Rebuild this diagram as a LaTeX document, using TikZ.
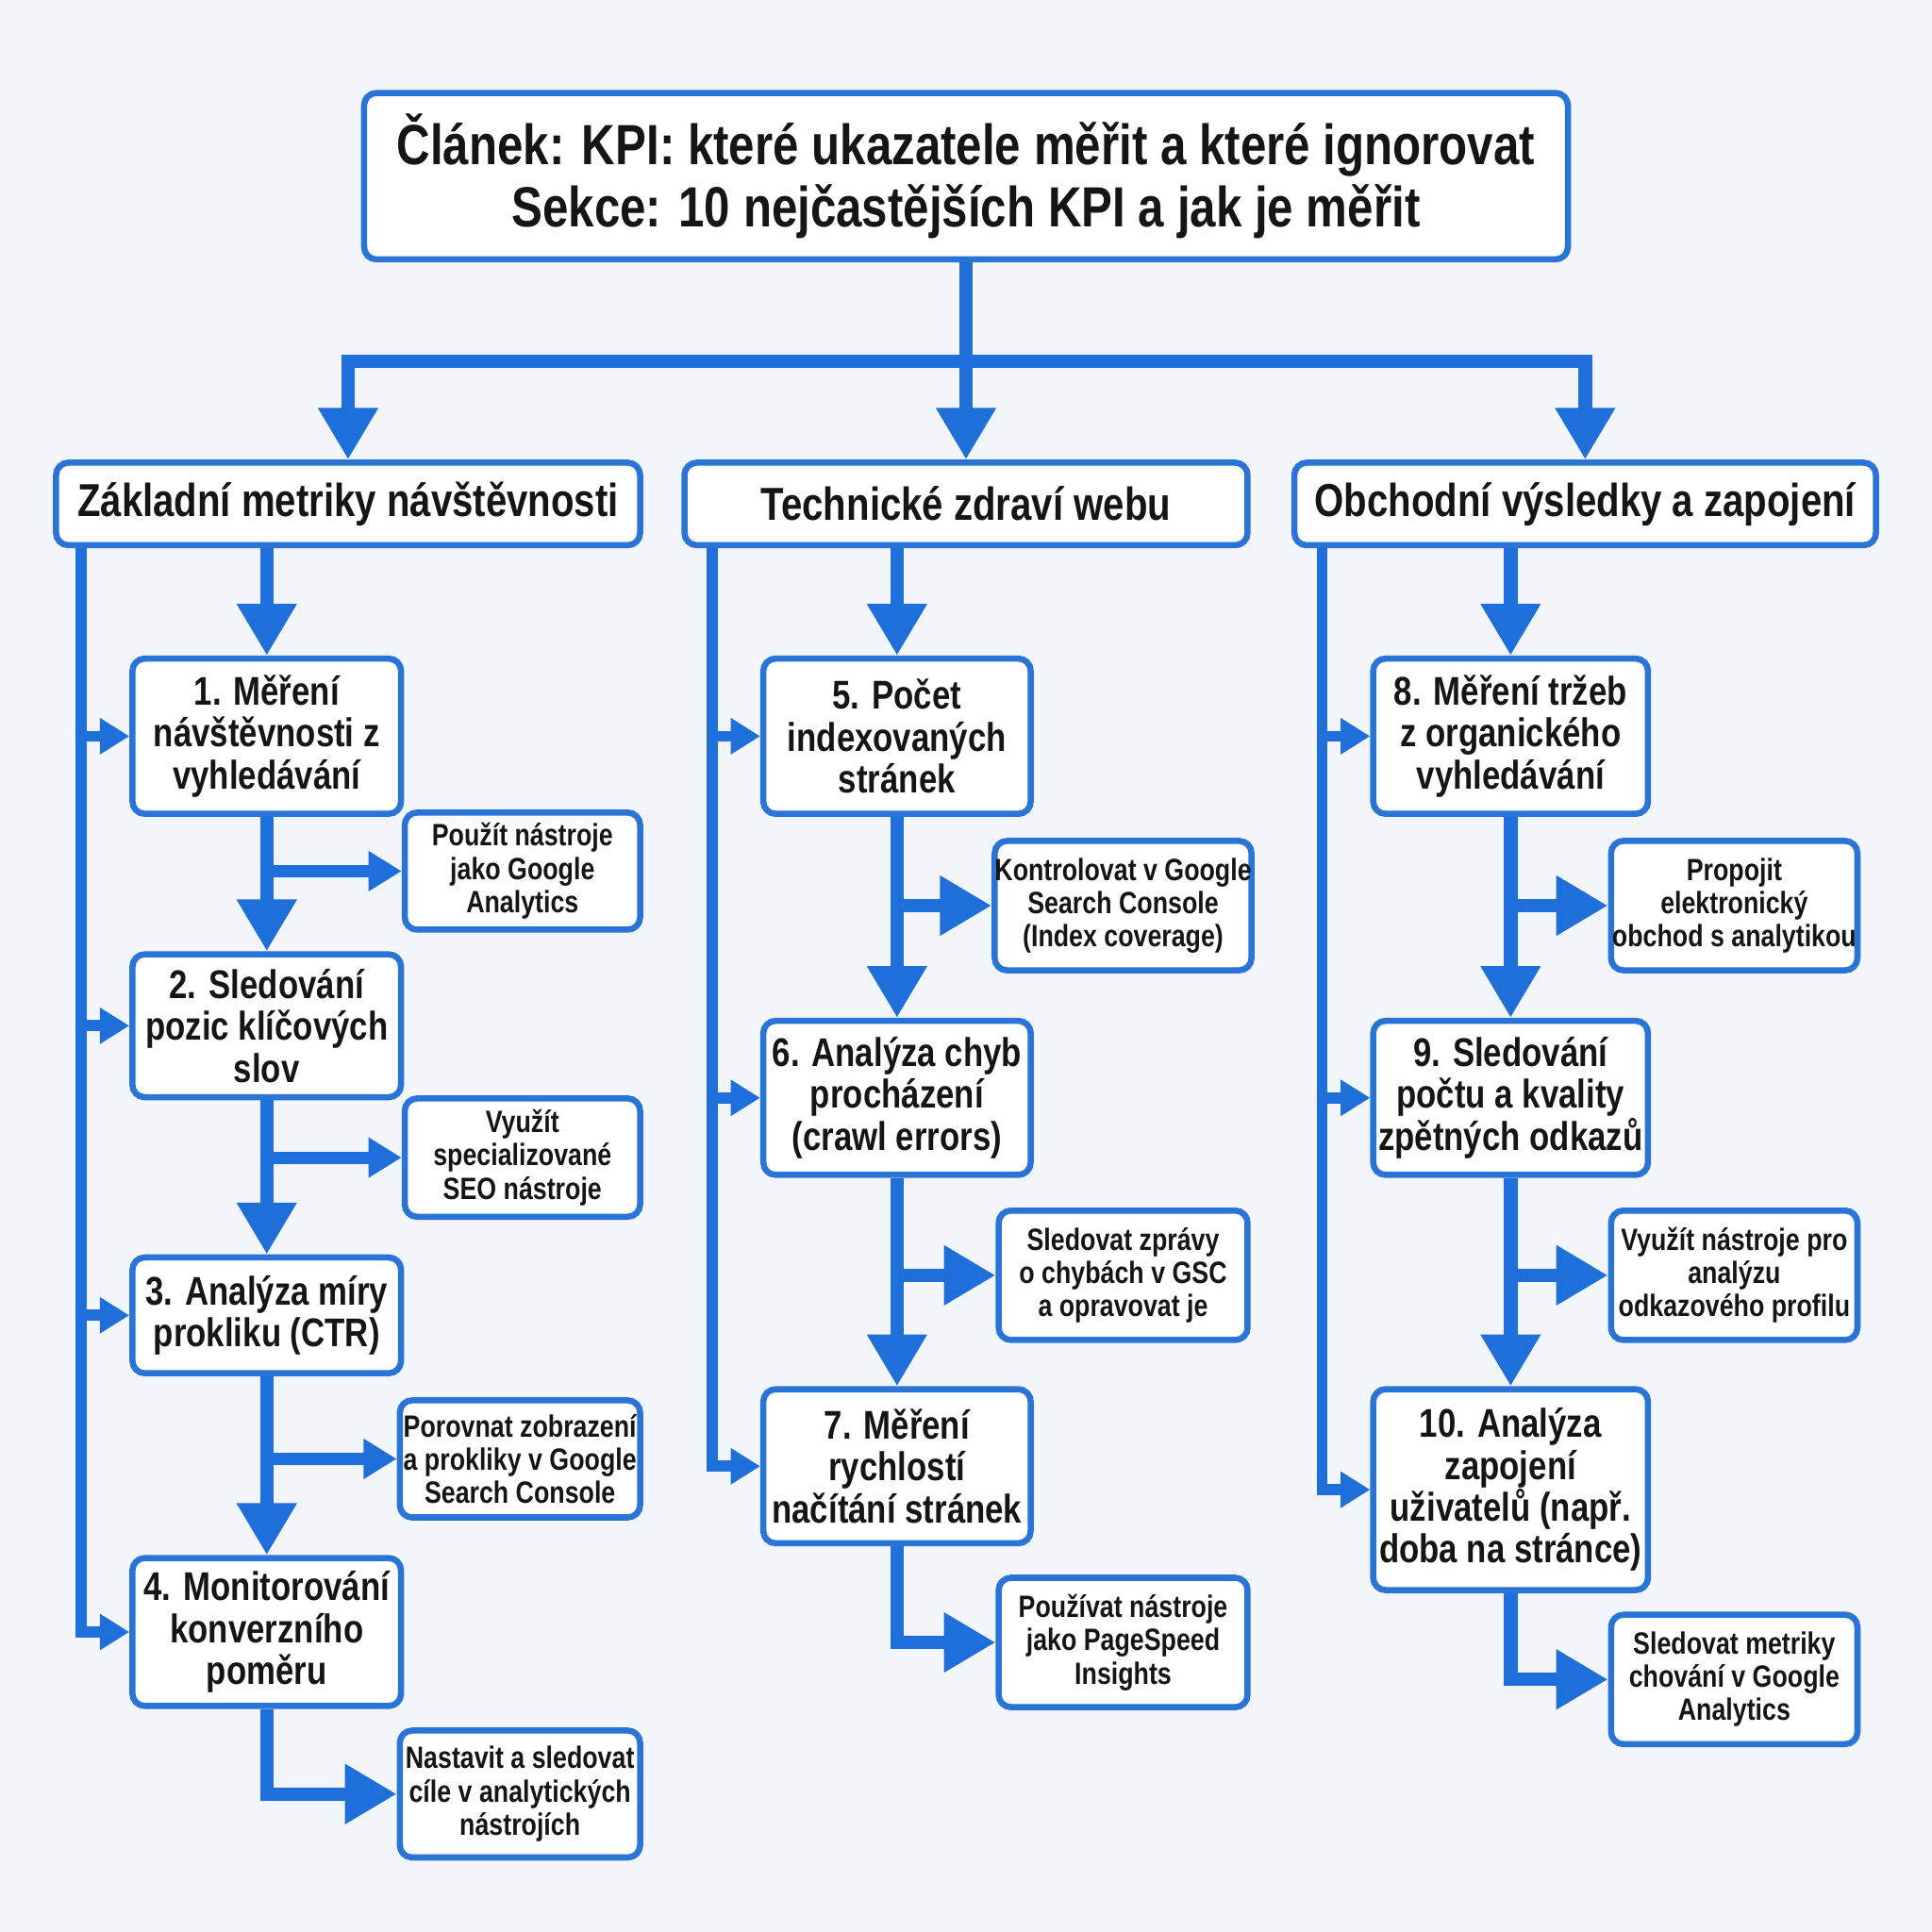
\documentclass[tikz,border=0pt]{standalone}
\usepackage{fontspec}
\setmainfont{Liberation Sans}[FakeStretch=0.82]
\usetikzlibrary{arrows.meta}
\definecolor{blu}{HTML}{1F6FDB}
\definecolor{bordc}{HTML}{2A74D8}
\definecolor{bgc}{HTML}{F2F6FA}
\definecolor{txt}{HTML}{151515}
\tikzset{
  box/.style={draw=bordc, line width=5pt, rounded corners=10pt, fill=white,
    inner sep=0pt, align=center, text=txt},
  titlef/.style={font=\bfseries\fontsize{46}{50}\selectfont},
  catf/.style={font=\bfseries\fontsize{37.5}{42}\selectfont},
  mainf/.style={font=\bfseries\fontsize{32.5}{34}\selectfont},
  subf/.style={font=\bfseries\fontsize{25}{27}\selectfont},
  conn/.style={draw=blu, line width=11pt},
  bigarr/.style={conn, -{Triangle[width=46pt,length=42pt]}},
  midarr/.style={conn, line width=10pt, -{Triangle[width=31pt,length=27pt]}},
  smallarr/.style={conn, line width=9pt, -{Triangle[width=28pt,length=24pt]}},
}
\begin{document}
\begin{tikzpicture}[x=1pt,y=-1pt]
\fill[bgc] (0,0) rectangle (1568,1568);
\useasboundingbox (0,0) rectangle (1568,1568);

% title
\node[box, titlef, minimum width=977pt, minimum height=135pt] (title) at (784,143)
  {Článek: KPI: které ukazatele měřit a které ignorovat\\Sekce: 10 nejčastějších KPI a jak je měřit};

% categories
\node[box, catf, minimum width=474pt, minimum height=67pt] (catL) at (282.5,409) {Základní metriky návštěvnosti};
\node[box, catf, minimum width=457pt, minimum height=67pt] (catM) at (784,409) {Technické zdraví webu};
\node[box, catf, minimum width=472pt, minimum height=67pt] (catR) at (1286.5,409) {Obchodní výsledky a zapojení};

% left column
\node[box, mainf, minimum width=218pt, minimum height=126pt] (b1) at (216.5,597.5) {1. Měření\\návštěvnosti z\\vyhledávání};
\node[box, mainf, minimum width=218pt, minimum height=116pt] (b2) at (216.5,832.5) {2. Sledování\\pozic klíčových\\slov};
\node[box, mainf, minimum width=218pt, minimum height=94pt] (b3) at (216.5,1067.5) {3. Analýza míry\\prokliku (CTR)};
\node[box, mainf, minimum width=218pt, minimum height=120pt] (b4) at (216.5,1324.5) {4. Monitorování\\konverzního\\poměru};
\node[box, subf, minimum width=191pt, minimum height=95pt] (s1) at (424,707) {Použít nástroje\\jako Google\\Analytics};
\node[box, subf, minimum width=191pt, minimum height=96pt] (s2) at (424,939.5) {Využít\\specializované\\SEO nástroje};
\node[box, subf, minimum width=195pt, minimum height=95pt] (s3) at (422,1184) {Porovnat zobrazení\\a prokliky v Google\\Search Console};
\node[box, subf, minimum width=195pt, minimum height=103pt] (s4) at (422,1456) {Nastavit a sledovat\\cíle v analytických\\nástrojích};

% middle column
\node[box, mainf, minimum width=217pt, minimum height=126pt] (b5) at (728,597.5) {5. Počet\\indexovaných\\stránek};
\node[box, mainf, minimum width=217pt, minimum height=125pt] (b6) at (728,891) {6. Analýza chyb\\procházení\\(crawl errors)};
\node[box, mainf, minimum width=217pt, minimum height=125pt] (b7) at (728,1190) {7. Měření\\rychlostí\\načítání stránek};
\node[box, subf, minimum width=202pt, minimum height=105pt] (s5) at (911.5,735) {Kontrolovat v Google\\Search Console\\(Index coverage)};
\node[box, subf, minimum width=202pt, minimum height=105pt] (s6) at (911.5,1035) {Sledovat zprávy\\o chybách v GSC\\a opravovat je};
\node[box, subf, minimum width=202pt, minimum height=105pt] (s7) at (911.5,1333) {Používat nástroje\\jako PageSpeed\\Insights};

% right column
\node[box, mainf, minimum width=223pt, minimum height=126pt] (b8) at (1226,597.5) {8. Měření tržeb\\z organického\\vyhledávání};
\node[box, mainf, minimum width=223pt, minimum height=125pt] (b9) at (1226,891) {9. Sledování\\počtu a kvality\\zpětných odkazů};
\node[box, mainf, minimum width=223pt, minimum height=163pt] (b10) at (1226,1209) {10. Analýza\\zapojení\\uživatelů (např.\\doba na stránce)};
\node[box, subf, minimum width=200pt, minimum height=105pt] (s8) at (1407.5,735) {Propojit\\elektronický\\obchod s analytikou};
\node[box, subf, minimum width=200pt, minimum height=105pt] (s9) at (1407.5,1035) {Využít nástroje pro\\analýzu\\odkazového profilu};
\node[box, subf, minimum width=200pt, minimum height=105pt] (s10) at (1407.5,1363) {Sledovat metriky\\chování v Google\\Analytics};

% top connectors
\coordinate (bar) at (784,293);
\draw[conn] (title.south) -- (bar);
\draw[bigarr] (bar) -| (catL.north);
\draw[bigarr] (bar) -| (catR.north);
\draw[bigarr] (bar) -- (catM.north);

% left column connectors
\coordinate (tL) at ([xshift=23pt]catL.south west);
\draw[smallarr] (tL) |- (b4.west);
\draw[smallarr] (tL |- b1.west) -- (b1.west);
\draw[smallarr] (tL |- b2.west) -- (b2.west);
\draw[smallarr] (tL |- b3.west) -- (b3.west);
\draw[bigarr] (b1.north |- catL.south) -- (b1.north);
\draw[bigarr] (b1.south) -- (b2.north);
\draw[bigarr] (b2.south) -- (b3.north);
\draw[bigarr] (b3.south) -- (b4.north);
\draw[midarr] (b1.south |- s1.west) -- (s1.west);
\draw[midarr] (b2.south |- s2.west) -- (s2.west);
\draw[midarr] (b3.south |- s3.west) -- (s3.west);
\draw[bigarr] (b4.south) |- (s4.west);

% middle column connectors
\coordinate (tM) at ([xshift=25pt]catM.south west);
\draw[smallarr] (tM) |- (b7.west);
\draw[smallarr] (tM |- b5.west) -- (b5.west);
\draw[smallarr] (tM |- b6.west) -- (b6.west);
\draw[bigarr] (b5.north |- catM.south) -- (b5.north);
\draw[bigarr] (b5.south) -- (b6.north);
\draw[bigarr] (b6.south) -- (b7.north);
\draw[bigarr] (b5.south |- s5.west) -- (s5.west);
\draw[bigarr] (b6.south |- s6.west) -- (s6.west);
\draw[bigarr] (b7.south) |- (s7.west);

% right column connectors
\coordinate (tR) at ([xshift=25pt]catR.south west);
\draw[smallarr] (tR) |- (b10.west);
\draw[smallarr] (tR |- b8.west) -- (b8.west);
\draw[smallarr] (tR |- b9.west) -- (b9.west);
\draw[bigarr] (b8.north |- catR.south) -- (b8.north);
\draw[bigarr] (b8.south) -- (b9.north);
\draw[bigarr] (b9.south) -- (b10.north);
\draw[bigarr] (b8.south |- s8.west) -- (s8.west);
\draw[bigarr] (b9.south |- s9.west) -- (s9.west);
\draw[bigarr] (b10.south) |- (s10.west);
\end{tikzpicture}
\end{document}
